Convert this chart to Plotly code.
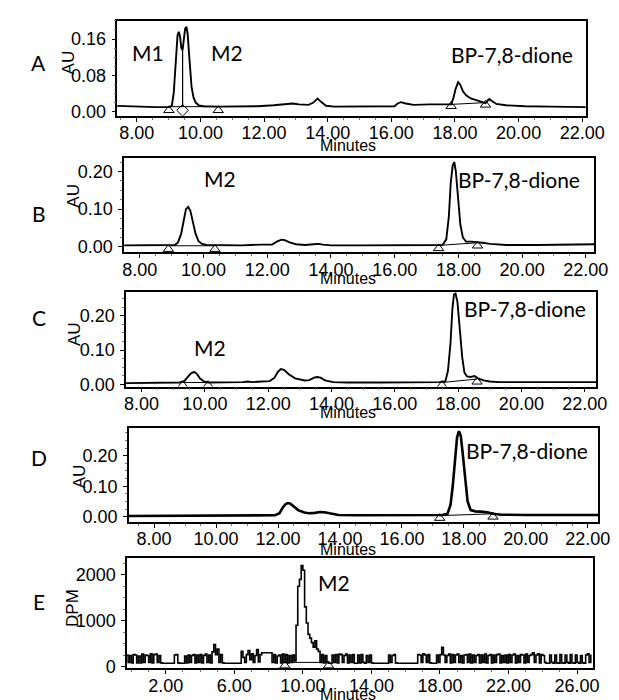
import plotly.graph_objects as go

W, H = 619, 700

# ------------------------------------------------------------------ data
# Panel A (AU vs minutes)
A_TIME = [7.3, 8.0, 8.6, 9.0, 9.10, 9.16, 9.20, 9.24, 9.28, 9.32, 9.36, 9.40, 9.44, 9.48,
          9.52, 9.56, 9.60, 9.64, 9.68, 9.72, 9.78, 9.85, 9.95, 10.1, 10.6, 11.2, 11.8,
          12.3, 12.7, 12.9, 13.1, 13.4, 13.55, 13.68, 13.8, 13.95, 14.2, 15.0, 15.8,
          16.1, 16.2, 16.3, 16.45, 16.7, 17.2, 17.6, 17.88, 17.95, 18.02, 18.1, 18.16,
          18.25, 18.35, 18.5, 18.66, 18.85, 18.96, 19.02, 19.08, 19.15, 19.3, 19.6,
          20.2, 21.0, 22.2]
A_AU = [0.013, 0.011, 0.010, 0.010, 0.013, 0.04, 0.09, 0.14, 0.168, 0.176, 0.165, 0.14,
        0.136, 0.16, 0.183, 0.187, 0.17, 0.13, 0.085, 0.055, 0.032, 0.02, 0.014, 0.012,
        0.011, 0.011, 0.012, 0.014, 0.016, 0.018, 0.016, 0.015, 0.02, 0.029, 0.021,
        0.013, 0.011, 0.011, 0.011, 0.012, 0.018, 0.021, 0.018, 0.015, 0.016, 0.016,
        0.016, 0.03, 0.05, 0.065, 0.06, 0.045, 0.036, 0.029, 0.025, 0.02, 0.019, 0.024,
        0.028, 0.024, 0.017, 0.014, 0.012, 0.011, 0.010]
A_BASE1_T = [9.01, 10.56]
A_BASE1_V = [0.011, 0.011]
A_DROP_T = [9.44, 9.44]
A_DROP_V = [0.011, 0.136]
A_BASE2_T = [17.88, 18.96]
A_BASE2_V = [0.016, 0.020]
A_TRI_T = [9.01, 10.56, 17.88, 18.96]
A_TRI_V = [0.003, 0.003, 0.012, 0.015]
A_DIA_T = [9.44]
A_DIA_V = [0.003]

# Panel B
B_TIME = [7.4, 8.2, 8.9, 9.1, 9.2, 9.3, 9.38, 9.45, 9.52, 9.59, 9.67, 9.75, 9.84, 9.95,
          10.1, 10.5, 11.2, 11.8, 12.0, 12.15, 12.3, 12.45, 12.55, 12.7, 12.9, 13.2,
          13.45, 13.6, 13.75, 14.0, 15.0, 16.0, 17.0, 17.5, 17.62, 17.7, 17.76, 17.82,
          17.87, 17.92, 17.99, 18.06, 18.14, 18.24, 18.4, 18.55, 18.75, 19.0, 19.5,
          20.5, 21.5, 22.3]
B_AU = [0.004, 0.004, 0.003, 0.005, 0.012, 0.035, 0.07, 0.1, 0.106, 0.095, 0.065, 0.035,
        0.016, 0.008, 0.005, 0.004, 0.004, 0.006, 0.005, 0.006, 0.014, 0.019, 0.018,
        0.012, 0.007, 0.005, 0.007, 0.008, 0.006, 0.004, 0.004, 0.004, 0.004, 0.005,
        0.02, 0.08, 0.17, 0.215, 0.225, 0.2, 0.13, 0.06, 0.025, 0.014, 0.014, 0.012,
        0.011, 0.008, 0.005, 0.005, 0.007, 0.007]
B_BASE1_T = [8.9, 10.36]
B_BASE1_V = [0.003, 0.003]
B_BASE2_T = [17.38, 18.6]
B_BASE2_V = [0.004, 0.011]
B_TRI_T = [8.9, 10.36, 17.38, 18.6]
B_TRI_V = [-0.006, -0.006, -0.004, 0.003]

# Panel C
C_TIME = [7.4, 8.5, 9.2, 9.35, 9.45, 9.55, 9.66, 9.74, 9.84, 9.97, 10.1, 10.6, 11.2,
          11.35, 11.5, 11.8, 12.05, 12.2, 12.3, 12.4, 12.5, 12.65, 12.85, 13.15, 13.3,
          13.45, 13.55, 13.65, 13.8, 14.05, 14.5, 15.5, 16.5, 17.4, 17.6, 17.68, 17.76,
          17.82, 17.87, 17.92, 17.98, 18.05, 18.13, 18.2, 18.28, 18.4, 18.52, 18.63,
          18.8, 19.0, 19.3, 20.0, 21.0, 22.4]
C_AU = [0.004, 0.005, 0.006, 0.01, 0.02, 0.032, 0.037, 0.032, 0.018, 0.009, 0.006, 0.006,
        0.007, 0.009, 0.007, 0.009, 0.01, 0.02, 0.036, 0.045, 0.043, 0.03, 0.018, 0.012,
        0.013, 0.02, 0.022, 0.02, 0.012, 0.007, 0.006, 0.006, 0.006, 0.007, 0.01, 0.04,
        0.12, 0.22, 0.262, 0.265, 0.24, 0.17, 0.08, 0.035, 0.024, 0.022, 0.025, 0.018,
        0.012, 0.009, 0.007, 0.007, 0.007, 0.007]
C_BASE1_T = [9.3, 10.1]
C_BASE1_V = [0.006, 0.006]
C_BASE2_T = [17.49, 18.6]
C_BASE2_V = [0.006, 0.016]
C_TRI_T = [9.3, 10.1, 17.49, 18.6]
C_TRI_V = [-0.002, -0.002, -0.002, 0.008]

# Panel D
D_TIME = [7.1, 8.9, 9.0, 11.9, 12.05, 12.15, 12.25, 12.32, 12.4, 12.5, 12.65, 12.85,
          13.0, 13.2, 13.35, 13.5, 13.7, 13.95, 14.5, 16.0, 17.3, 17.47, 17.57, 17.64,
          17.72, 17.78, 17.84, 17.9, 17.97, 18.04, 18.12, 18.22, 18.37, 18.55, 18.75, 18.95,
          19.2, 20.0, 21.0, 22.6]
D_AU = [0.003, 0.003, 0.005, 0.005, 0.012, 0.03, 0.042, 0.045, 0.043, 0.035, 0.022,
        0.014, 0.012, 0.013, 0.016, 0.015, 0.01, 0.006, 0.005, 0.005, 0.006, 0.01, 0.04,
        0.1, 0.2, 0.26, 0.28, 0.265, 0.2, 0.12, 0.05, 0.022, 0.018, 0.017, 0.015, 0.01,
        0.007, 0.006, 0.006, 0.006]
D_BASE_T = [17.22, 18.94]
D_BASE_V = [0.004, 0.010]
D_TRI_T = [17.22, 18.94]
D_TRI_V = [-0.004, 0.0]

# Panel E (DPM, radio-flow detector, 0.1-min bins starting at E_START)
E_START = -0.3
E_STEP = 0.1
E_DPM = [
    250, 90, 240,
    80, 260, 250, 80, 230, 80, 270, 90, 250, 240,
    90, 280, 80, 260, 270, 90, 240, 80, 70, 70,
    70, 70, 70, 70, 70, 250, 260, 80, 70, 70,
    70, 230, 80, 250, 90, 240, 260, 80, 250, 90,
    260, 80, 240, 270, 90, 250, 80, 320, 480, 260,
    380, 90, 260, 80, 70, 70, 70, 70, 70, 70,
    70, 70, 70, 70, 330, 200, 90, 260, 350, 150,
    280, 90, 240, 370, 100, 260, 300, 300, 300, 300,
    300, 300, 90, 260, 80, 230, 250, 80, 270, 90,
    260, 80, 240, 90, 250, 120, 900, 1750, 1900, 2200,
    2100, 1300, 950, 700, 620, 520, 420, 560, 380, 330,
    90, 260, 80, 240, 90, 70, 70, 250, 90, 260,
    80, 270, 260, 90, 240, 270, 80, 250, 90, 260,
    70, 70, 250, 80, 260, 90, 70, 240, 90, 250,
    80, 70, 70, 70, 70, 70, 70, 70, 70, 70,
    250, 90, 240, 260, 80, 70, 70, 70, 70, 70,
    70, 70, 70, 70, 70, 70, 70, 260, 250, 90,
    280, 250, 90, 260, 80, 70, 70, 70, 250, 90,
    260, 420, 250, 90, 240, 270, 80, 260, 90, 250,
    270, 90, 240, 80, 250, 260, 90, 270, 80, 250,
    90, 240, 260, 80, 250, 90, 270, 80, 240, 260,
    80, 250, 90, 260, 270, 80, 240, 90, 250, 80,
    260, 90, 250, 270, 80, 240, 90, 260, 250, 80,
    270, 90, 240, 260, 300, 90, 250, 280, 80, 260,
    240, 90, 70, 70, 250, 90, 70, 250, 80, 70,
    260, 80, 70, 250, 90, 70, 260, 80, 70, 250,
    90, 70, 240, 80, 70, 250, 280, 90, 260,
]
E_BASE_T = [8.95, 11.5]
E_BASE_V = [90, 90]
E_TRI_T = [8.95, 11.5]
E_TRI_V = [20, 20]

# tick settings
AU_X_TICK0, AU_X_DTICK = 8, 2
E_X_TICK0, E_X_DTICK = 2, 4

# ------------------------------------------------------------------ layout helpers
TICK_FONT = dict(family="Liberation Sans, Arial, sans-serif", size=18, color="black")
LBL_FONT = dict(family="Lato, Calibri, sans-serif", size=21, color="black")

# pixel boxes: (left, right, top, bottom), axis ranges
PANELS = {
    "A": dict(box=(112, 596, 13, 109), xr=(7.39, 22.11), yr=(-0.009, 0.200), dy=0.08, mdy=0.02),
    "B": dict(box=(119, 605, 152, 247), xr=(7.51, 22.27), yr=(-0.014, 0.235), dy=0.10, mdy=0.025),
    "C": dict(box=(121, 607, 287, 383), xr=(7.51, 22.37), yr=(-0.006, 0.270), dy=0.10, mdy=0.025),
    "D": dict(box=(124, 609, 425, 520), xr=(7.19, 22.34), yr=(-0.017, 0.290), dy=0.10, mdy=0.025),
    "E": dict(box=(122, 603, 556, 668), xr=(-0.26, 26.9), yr=(-40, 2373), dy=1000, mdy=250),
}

fig = go.Figure()
layout = dict(width=W, height=H, margin=dict(l=0, r=0, t=0, b=0), autosize=False,
              paper_bgcolor="white", plot_bgcolor="white", showlegend=False)

for i, (name, p) in enumerate(PANELS.items()):
    l, r, t, b = p["box"]
    suffix = "" if i == 0 else str(i + 1)
    is_e = name == "E"
    common = dict(showline=True, mirror=True, linecolor="black", linewidth=1.5,
                  showgrid=False, zeroline=False, ticks="outside", ticklen=4,
                  tickwidth=1, tickcolor="black", tickfont=TICK_FONT)
    layout["xaxis" + suffix] = dict(
        domain=[l / W, r / W], range=list(p["xr"]), anchor="y" + suffix,
        tickmode="linear", tick0=E_X_TICK0 if is_e else AU_X_TICK0,
        dtick=E_X_DTICK if is_e else AU_X_DTICK, tickformat=".2f",
        ticklabelstandoff=-4,
        minor=dict(ticks="outside", ticklen=2, dtick=1 if is_e else 0.5, tickcolor="#777"),
        **common)
    layout["yaxis" + suffix] = dict(
        domain=[1 - b / H, 1 - t / H], range=list(p["yr"]), anchor="x" + suffix,
        tickmode="linear", tick0=0, dtick=p["dy"], tickformat="d" if is_e else ".2f",
        ticklabelstandoff=2,
        minor=dict(ticks="outside", ticklen=2, dtick=p["mdy"], tickcolor="#777"),
        **common)

fig.update_layout(**layout)


def add_line(x, y, k, width, shape="linear"):
    fig.add_trace(go.Scatter(x=x, y=y, mode="lines", xaxis="x" + k, yaxis="y" + k,
                             line=dict(color="black", width=width, shape=shape),
                             hoverinfo="skip"))


def add_marks(x, y, k, symbol="triangle-up-open"):
    fig.add_trace(go.Scatter(x=x, y=y, mode="markers", xaxis="x" + k, yaxis="y" + k,
                             marker=dict(symbol=symbol, size=9, color="black",
                                         line=dict(width=1, color="black")),
                             hoverinfo="skip"))


# A
add_line(A_BASE1_T, A_BASE1_V, "", 1)
add_line(A_DROP_T, A_DROP_V, "", 1.2)
add_line(A_BASE2_T, A_BASE2_V, "", 1)
add_line(A_TIME, A_AU, "", 1.9)
add_marks(A_TRI_T, A_TRI_V, "")
add_marks(A_DIA_T, A_DIA_V, "", "diamond-open")
# B
add_line(B_BASE1_T, B_BASE1_V, "2", 1)
add_line(B_BASE2_T, B_BASE2_V, "2", 1)
add_line(B_TIME, B_AU, "2", 1.9)
add_marks(B_TRI_T, B_TRI_V, "2")
# C
add_line(C_BASE1_T, C_BASE1_V, "3", 1)
add_line(C_BASE2_T, C_BASE2_V, "3", 1)
add_line(C_TIME, C_AU, "3", 1.9)
add_marks(C_TRI_T, C_TRI_V, "3")
# D
add_line(D_BASE_T, D_BASE_V, "4", 1)
add_line(D_TIME, D_AU, "4", 2.6)
add_marks(D_TRI_T, D_TRI_V, "4")
# E
E_TIME = [E_START + E_STEP * i for i in range(len(E_DPM))]
add_line(E_BASE_T, E_BASE_V, "5", 1)
add_line(E_TIME, E_DPM, "5", 1.6, shape="hv")
add_marks(E_TRI_T, E_TRI_V, "5")


def ann(text, x, y, font, angle=0):
    fig.add_annotation(text=text, x=x / W, y=1 - y / H, xref="paper", yref="paper",
                       showarrow=False, xanchor="center", yanchor="middle",
                       font=font, textangle=angle)


AX_FONT = dict(family="Liberation Sans, Arial, sans-serif", size=17, color="black")
MIN_FONT = dict(family="Liberation Sans, Arial, sans-serif", size=16, color="black")

LBL_SHIFT = -7

# panel letters
for letter, y in [("A", 62), ("B", 215), ("C", 320), ("D", 462), ("E", 607)]:
    ann(letter, 31, y + LBL_SHIFT, LBL_FONT)

# y titles
ann("AU", 61, 55, AX_FONT, -90)
ann("AU", 67, 190, AX_FONT, -90)
ann("AU", 67, 330, AX_FONT, -90)
ann("AU", 73, 474, AX_FONT, -90)
ann("DPM", 65, 607, AX_FONT, -90)

# x titles
for y in [139, 274, 409, 548, 694]:
    ann("Minutes", 350, y, MIN_FONT)

# peak labels
for text, x, y in [("M1", 144, 52), ("M2", 225, 52), ("BP-7,8-dione", 520, 54),
                   ("M2", 218, 179), ("BP-7,8-dione", 527, 180),
                   ("M2", 208, 350), ("BP-7,8-dione", 533, 311),
                   ("BP-7,8-dione", 535, 455), ("M2", 336, 588)]:
    ann(text, x, y + LBL_SHIFT, LBL_FONT)

fig.write_html("out.html")
